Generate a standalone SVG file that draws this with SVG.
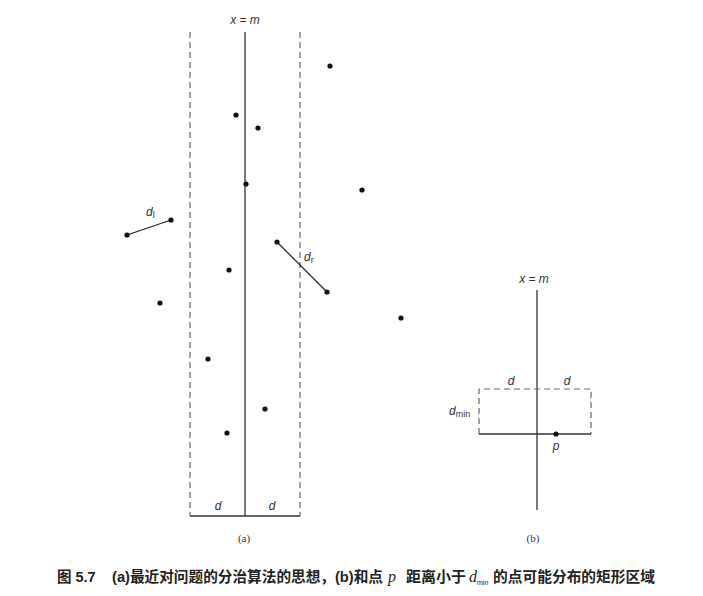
<svg xmlns="http://www.w3.org/2000/svg" width="703" height="596" viewBox="0 0 703 596">
<style>
.ax{stroke:#333;stroke-width:1.3;fill:none}
.ds{stroke:#666;stroke-width:1.2;stroke-dasharray:6,4;fill:none}
.sg{stroke:#222;stroke-width:1.2}
.pt{fill:#111}
.it{font-family:"Liberation Sans",Arial,sans-serif;font-style:italic;font-size:12px;fill:#333}
.sub{font-family:"Liberation Sans",Arial,sans-serif;font-size:9px;fill:#333}
.lab{font-family:"Liberation Serif",serif;font-size:11px;fill:#333}
.cap{font-family:"Liberation Sans","Noto Sans CJK SC",sans-serif;font-size:14.5px;font-weight:bold;fill:#222}
.capi{font-family:"Liberation Serif",serif;font-style:italic;font-size:16px;fill:#222}
</style>
<rect width="703" height="596" fill="#fff"/>
<g id="panel-a">
  <text class="it" x="245" y="24" text-anchor="middle">x = m</text>
  <line class="ax" x1="245" y1="32" x2="245" y2="516"/>
  <line class="ds" x1="190" y1="32" x2="190" y2="516"/>
  <line class="ds" x1="300" y1="32" x2="300" y2="516"/>
  <line class="ax" x1="190" y1="516" x2="300" y2="516"/>
  <text class="it" x="218" y="510" text-anchor="middle">d</text>
  <text class="it" x="272" y="510" text-anchor="middle">d</text>
  <text class="lab" x="244" y="542" text-anchor="middle">(a)</text>
</g>
<g id="connectors">
  <line class="sg" x1="127" y1="235" x2="171" y2="220"/>
  <line class="sg" x1="277" y1="242" x2="327" y2="292"/>
</g>
<g id="labels-a">
  <text class="it" x="146" y="216">d<tspan class="sub" font-style="normal" dy="2">l</tspan></text>
  <text class="it" x="304" y="261">d<tspan class="sub" font-style="normal" dy="2">r</tspan></text>
</g>
<g id="points">
  <circle class="pt" cx="330" cy="66" r="2.6"/>
  <circle class="pt" cx="236" cy="115" r="2.6"/>
  <circle class="pt" cx="258" cy="128" r="2.6"/>
  <circle class="pt" cx="246" cy="184" r="2.6"/>
  <circle class="pt" cx="362" cy="190" r="2.6"/>
  <circle class="pt" cx="127" cy="235" r="2.6"/>
  <circle class="pt" cx="171" cy="220" r="2.6"/>
  <circle class="pt" cx="277" cy="242" r="2.6"/>
  <circle class="pt" cx="327" cy="292" r="2.6"/>
  <circle class="pt" cx="229" cy="270" r="2.6"/>
  <circle class="pt" cx="160" cy="303" r="2.6"/>
  <circle class="pt" cx="401" cy="318" r="2.6"/>
  <circle class="pt" cx="208" cy="359" r="2.6"/>
  <circle class="pt" cx="265" cy="409" r="2.6"/>
  <circle class="pt" cx="227" cy="433" r="2.6"/>
</g>
<g id="panel-b">
  <text class="it" x="534" y="283" text-anchor="middle">x = m</text>
  <line class="ax" x1="537" y1="290" x2="537" y2="510"/>
  <path class="ds" d="M479 434 V389 H591 V434"/>
  <line class="ax" x1="479" y1="434" x2="591" y2="434"/>
  <text class="it" x="511" y="385" text-anchor="middle">d</text>
  <text class="it" x="567" y="385" text-anchor="middle">d</text>
  <text class="it" x="449" y="415">d<tspan class="sub" font-style="normal" dy="2">min</tspan></text>
  <circle class="pt" cx="556" cy="434" r="2.6"/>
  <text class="it" x="556" y="450" text-anchor="middle">p</text>
  <text class="lab" x="533" y="542" text-anchor="middle">(b)</text>
</g>
<g id="caption">
  <text class="cap" x="57" y="582">图 5.7</text>
  <text class="cap" x="112" y="582" textLength="271" lengthAdjust="spacingAndGlyphs">(a)最近对问题的分治算法的思想，(b)和点</text>
  <text class="capi" x="388" y="582">p</text>
  <text class="cap" x="406" y="582" textLength="60" lengthAdjust="spacingAndGlyphs">距离小于</text>
  <text class="capi" x="469" y="582" font-size="15">d<tspan font-family="Liberation Sans,sans-serif" font-style="normal" font-size="7" dy="3">min</tspan></text>
  <text class="cap" x="493" y="582" textLength="162" lengthAdjust="spacingAndGlyphs">的点可能分布的矩形区域</text>
</g>
</svg>
